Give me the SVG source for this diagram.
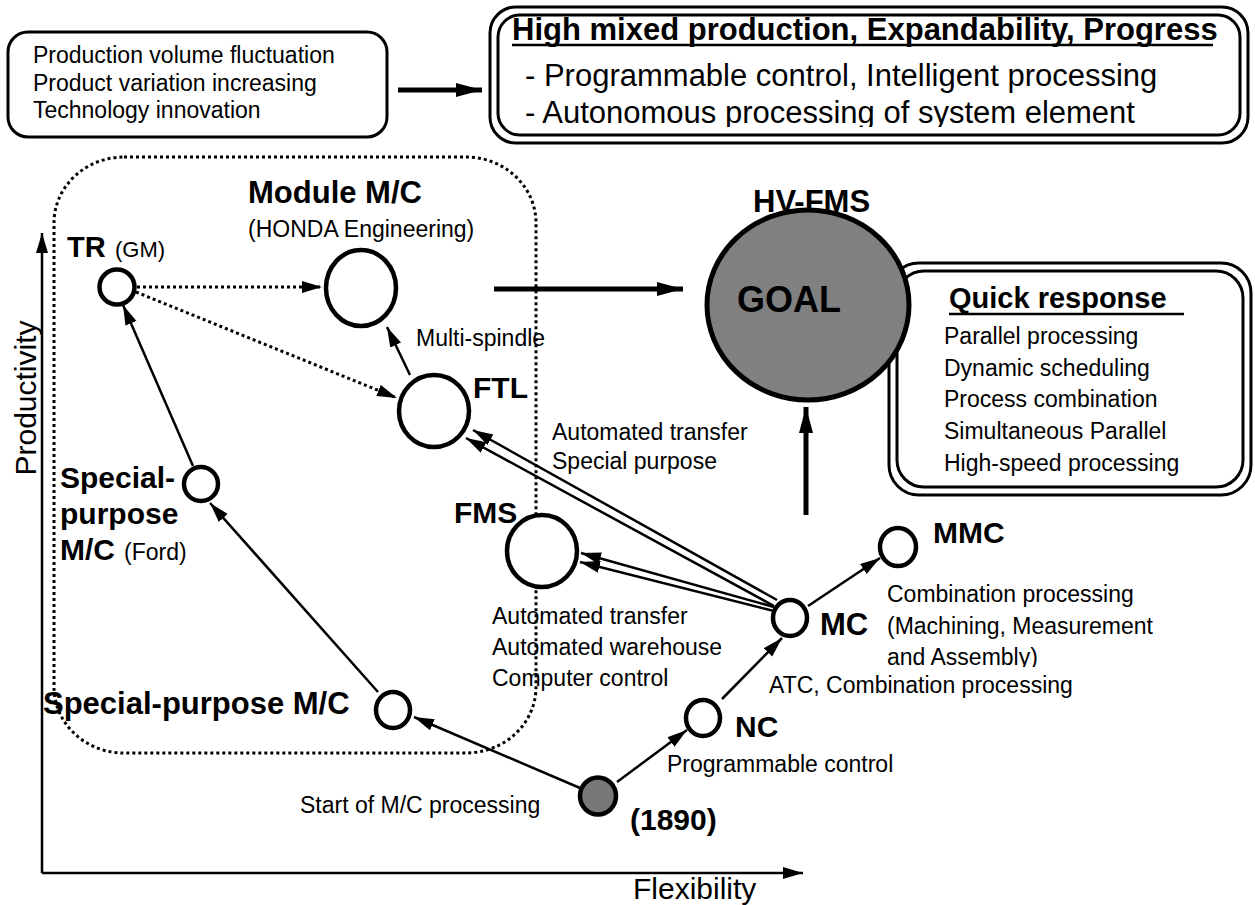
<svg xmlns="http://www.w3.org/2000/svg" width="1255" height="905" viewBox="0 0 1255 905">
<style>
text{font-family:"Liberation Sans",Arial,sans-serif;fill:#000}
.r23{font-size:23px}
.r31{font-size:31px}
.b30{font-size:30px;font-weight:bold}
.b31{font-size:31px;font-weight:bold}
.node{fill:#fff;stroke:#000;stroke-width:4.5}
.ln{stroke:#000;stroke-width:2.5;fill:none}
.dot{stroke:#000;stroke-width:3;stroke-dasharray:3 3;fill:none}
.thick{stroke:#000;stroke-width:5;fill:none}
.box{fill:#fff;stroke:#000;stroke-width:3}
</style>
<defs>
<marker id="ah" markerUnits="userSpaceOnUse" markerWidth="22" markerHeight="14" refX="20" refY="6" orient="auto"><path d="M0,0 L20,6 L0,12 z" fill="#000"/></marker>
<marker id="ahb" markerUnits="userSpaceOnUse" markerWidth="28" markerHeight="16" refX="26" refY="7" orient="auto"><path d="M0,0 L26,7 L0,14 z" fill="#000"/></marker>
<clipPath id="clipTop"><rect x="480" y="0" width="775" height="127"/></clipPath>
<clipPath id="clipAsm"><rect x="870" y="640" width="400" height="27"/></clipPath>
</defs>

<g id="region">
<rect class="dot" x="54" y="157" width="482" height="596" rx="70" ry="66"/>
</g>

<g id="drivers">
<rect class="box" x="8" y="32" width="379" height="105" rx="20"/>
<text class="r23" x="33" y="63">Production volume fluctuation</text>
<text class="r23" x="33" y="91">Product variation increasing</text>
<text class="r23" x="33" y="118">Technology innovation</text>
</g>

<g id="requirements">
<rect class="box" x="490" y="7" width="758" height="136" rx="26"/>
<rect class="box" x="498" y="15" width="742" height="120" rx="22"/>
<text class="b31" x="512" y="40">High mixed production, Expandability, Progress</text>
<line x1="512" y1="45" x2="1213" y2="45" stroke="#000" stroke-width="2.5"/>
<text class="r31" x="525" y="86">- Programmable control, Intelligent processing</text>
<text class="r31" x="525" y="123" clip-path="url(#clipTop)">- Autonomous processing of system element</text>
</g>

<g id="quick-response">
<rect class="box" x="889" y="263" width="362" height="232" rx="30"/>
<rect class="box" x="897" y="271" width="346" height="216" rx="27"/>
<text x="949" y="308" style="font-size:29px;font-weight:bold">Quick response</text>
<line x1="949" y1="314" x2="1184" y2="314" stroke="#000" stroke-width="2.5"/>
<text class="r23" x="944" y="344">Parallel processing</text>
<text class="r23" x="944" y="376">Dynamic scheduling</text>
<text class="r23" x="944" y="407">Process combination</text>
<text class="r23" x="944" y="439">Simultaneous Parallel</text>
<text class="r23" x="944" y="471">High-speed processing</text>
</g>

<g id="connectors">
<line class="ln" x1="42" y1="873" x2="42" y2="233" marker-end="url(#ah)"/>
<line class="ln" x1="42" y1="873" x2="803" y2="873" marker-end="url(#ah)"/>
<line class="thick" x1="398" y1="90" x2="482" y2="90" marker-end="url(#ahb)"/>
<line class="thick" x1="494" y1="289" x2="683" y2="289" marker-end="url(#ahb)"/>
<line class="thick" x1="806" y1="515" x2="806" y2="407" marker-end="url(#ahb)"/>
<line class="dot" x1="137" y1="287" x2="322" y2="287" marker-end="url(#ah)"/>
<line class="dot" x1="136" y1="292" x2="397" y2="398" marker-end="url(#ah)"/>
<line class="ln" x1="410" y1="375" x2="387" y2="327" marker-end="url(#ah)"/>
<line class="ln" x1="193" y1="466" x2="123" y2="305" marker-end="url(#ah)"/>
<line class="ln" x1="378" y1="692" x2="210" y2="503" marker-end="url(#ah)"/>
<line class="ln" x1="580" y1="788" x2="414" y2="717" marker-end="url(#ah)"/>
<line class="ln" x1="617" y1="782" x2="687" y2="730" marker-end="url(#ah)"/>
<line class="ln" x1="722" y1="699" x2="782" y2="638" marker-end="url(#ah)"/>
<line class="ln" x1="808" y1="606" x2="880" y2="558" marker-end="url(#ah)"/>
<line class="ln" x1="777" y1="600" x2="473" y2="430" marker-end="url(#ah)"/>
<line class="ln" x1="774" y1="606" x2="466" y2="438" marker-end="url(#ah)"/>
<line class="ln" x1="774" y1="607" x2="581" y2="553" marker-end="url(#ah)"/>
<line class="ln" x1="774" y1="611" x2="580" y2="562" marker-end="url(#ah)"/>
</g>

<g id="axis-labels">
<text transform="translate(36,398) rotate(-90)" text-anchor="middle" style="font-size:30px">Productivity</text>
<text x="633" y="899" style="font-size:30px">Flexibility</text>
</g>

<g id="node-tr">
<circle class="node" cx="117" cy="287" r="17.5"/>
<text x="67" y="257" style="font-size:29px;font-weight:bold">TR</text>
<text x="115" y="257" style="font-size:22px">(GM)</text>
</g>

<g id="node-module">
<ellipse class="node" cx="361" cy="288" rx="35" ry="38"/>
<text class="b31" x="248" y="203">Module M/C</text>
<text class="r23" x="248" y="237">(HONDA Engineering)</text>
<text class="r23" x="416" y="346">Multi-spindle</text>
</g>

<g id="node-ftl">
<ellipse class="node" cx="434" cy="411" rx="35" ry="36"/>
<text class="b30" x="473" y="398">FTL</text>
<text class="r23" x="552" y="440">Automated transfer</text>
<text class="r23" x="552" y="469">Special purpose</text>
</g>

<g id="node-fms">
<ellipse class="node" cx="542" cy="551" rx="35" ry="36"/>
<text class="b30" x="454" y="523">FMS</text>
<text class="r23" x="492" y="624">Automated transfer</text>
<text class="r23" x="492" y="655">Automated warehouse</text>
<text class="r23" x="492" y="686">Computer control</text>
</g>

<g id="node-special-ford">
<circle class="node" cx="201" cy="484" r="17"/>
<text class="b30" x="60" y="488">Special-</text>
<text class="b30" x="60" y="524">purpose</text>
<text class="b30" x="60" y="560">M/C</text>
<text class="r23" x="124" y="560">(Ford)</text>
</g>

<g id="node-special">
<ellipse class="node" cx="393" cy="710" rx="17" ry="18"/>
<text class="b31" x="43" y="714">Special-purpose M/C</text>
</g>

<g id="node-1890">
<ellipse cx="598" cy="796" rx="18" ry="18.5" fill="#777" stroke="#000" stroke-width="4.5"/>
<text class="b30" x="630" y="830">(1890)</text>
<text class="r23" x="300" y="813">Start of M/C processing</text>
</g>

<g id="node-nc">
<ellipse class="node" cx="703" cy="718" rx="17" ry="18"/>
<text class="b30" x="735" y="737">NC</text>
<text class="r23" x="667" y="772">Programmable control</text>
</g>

<g id="node-mc">
<ellipse class="node" cx="790" cy="618" rx="17" ry="18"/>
<text class="b31" x="820" y="635">MC</text>
<text class="r23" x="769" y="693">ATC, Combination processing</text>
</g>

<g id="node-mmc">
<ellipse class="node" cx="898" cy="547" rx="18" ry="19"/>
<text class="b30" x="933" y="543">MMC</text>
<text class="r23" x="887" y="602">Combination processing</text>
<text class="r23" x="887" y="634">(Machining, Measurement</text>
<text class="r23" x="887" y="665" clip-path="url(#clipAsm)">and Assembly)</text>
</g>

<g id="node-goal">
<text class="b31" x="753" y="212">HV-FMS</text>
<ellipse cx="808" cy="305" rx="101" ry="95" fill="#808080" stroke="#000" stroke-width="5"/>
<text x="737" y="312" style="font-size:36px;font-weight:bold">GOAL</text>
</g>
</svg>
